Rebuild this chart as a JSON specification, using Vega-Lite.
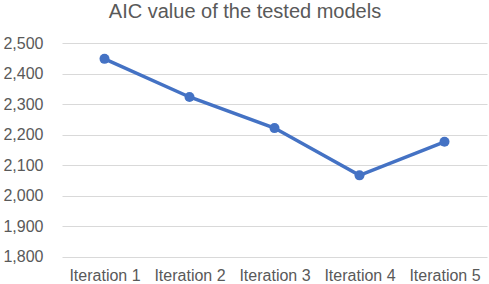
{
  "$schema": "https://vega.github.io/schema/vega-lite/v6.json",
  "autosize": {"type": "fit", "contains": "padding"},
  "width": 489,
  "height": 284,
  "padding": {"left": 2, "top": 2, "right": 2, "bottom": 0.5},
  "background": "white",
  "title": {
    "text": "AIC value of the tested models",
    "font": "Liberation Sans",
    "fontSize": 20,
    "fontWeight": "normal",
    "color": "#595959",
    "anchor": "middle",
    "frame": "bounds",
    "offset": 13
  },
  "config": {
    "view": {"stroke": null},
    "axis": {
      "labelFont": "Liberation Sans",
      "labelFontSize": 16,
      "labelColor": "#595959",
      "domain": false,
      "ticks": false,
      "tickSize": 0,
      "gridColor": "#d9d9d9",
      "gridWidth": 1
    }
  },
  "data": {
    "values": [
      {"iteration": "Iteration 1", "aic": 2448},
      {"iteration": "Iteration 2", "aic": 2323},
      {"iteration": "Iteration 3", "aic": 2221},
      {"iteration": "Iteration 4", "aic": 2066},
      {"iteration": "Iteration 5", "aic": 2176}
    ]
  },
  "mark": {"type": "line", "color": "#4472C4", "strokeWidth": 3.5, "point": {"filled": true, "size": 100, "color": "#4472C4"}},
  "encoding": {
    "x": {
      "field": "iteration",
      "type": "nominal",
      "sort": null,
      "scale": {"type": "point", "padding": 0.5},
      "axis": {"title": null, "labelAngle": 0, "labelPadding": 11, "grid": false}
    },
    "y": {
      "field": "aic",
      "type": "quantitative",
      "scale": {"domain": [1800, 2500], "nice": false, "zero": false},
      "axis": {"title": null, "values": [1800, 1900, 2000, 2100, 2200, 2300, 2400, 2500], "format": ",d", "labelPadding": 19, "grid": true}
    }
  }
}
